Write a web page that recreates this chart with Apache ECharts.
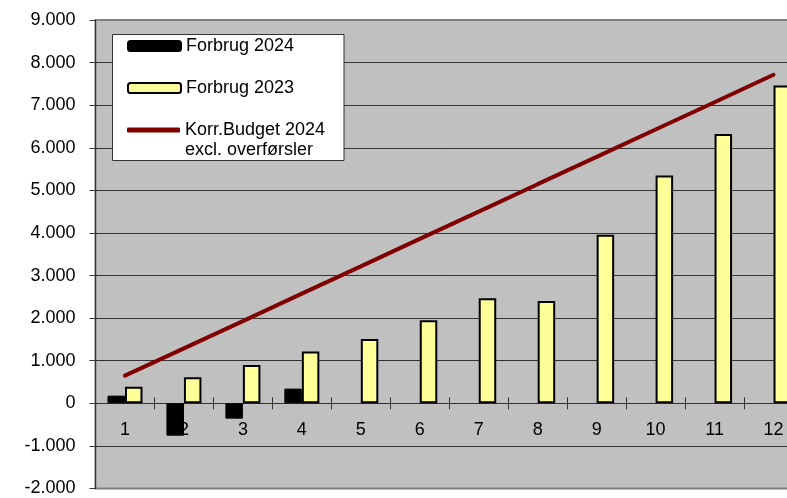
<!DOCTYPE html>
<html>
<head>
<meta charset="utf-8">
<script src="https://cdn.jsdelivr.net/npm/echarts@6/dist/echarts.min.js"></script>
<style>
html,body{margin:0;padding:0;background:#fff;}
#chart{width:787px;height:498px;}
</style>
</head>
<body>
<div id="chart"></div>
<script>
const months = ['1','2','3','4','5','6','7','8','9','10','11','12'];
const forbrug2024 = [180, -760, -360, 345, null, null, null, null, null, null, null, null];
const forbrug2023 = [390, 610, 900, 1215, 1510, 1950, 2465, 2405, 3960, 5350, 6325, 7460];
const budget2024 = [650, 1290, 1930, 2575, 3215, 3860, 4500, 5145, 5785, 6430, 7070, 7715];
const yTicks = {min: -2000, max: 9000, step: 1000};

const FONT = "'Liberation Sans', Arial, sans-serif";
function fmt(v){
  const s = Math.abs(v).toString().replace(/\B(?=(\d{3})+(?!\d))/g, '.');
  return (v < 0 ? '-' : '') + s;
}
const splitColors = ['#808080'];
for (let i = 1; i < 11; i++) splitColors.push('#333333');

const chart = echarts.init(document.getElementById('chart'));
chart.setOption({
  animation: false,
  backgroundColor: '#ffffff',
  textStyle: {fontFamily: FONT},
  grid: {
    left: 95.5, top: 20, bottom: 9.5, right: -16,
    containLabel: false, outerBoundsMode: 'none',
    show: true, backgroundColor: '#C0C0C0', borderColor: '#808080', borderWidth: 2
  },
  xAxis: [{
    type: 'category', data: months, position: 'bottom', offset: 0,
    axisLine: {show: true, onZero: false, lineStyle: {color: '#333333', width: 1}},
    axisTick: {show: true, length: 6, lineStyle: {color: '#333333'}},
    axisLabel: {margin: 18, fontSize: 18, color: '#000', fontFamily: FONT},
    splitLine: {show: false}
  }, {
    type: 'category', data: months, position: 'bottom', offset: 0,
    axisLine: {show: false, onZero: false},
    axisTick: {show: true, inside: true, length: 6, lineStyle: {color: '#333333'}},
    axisLabel: {show: false},
    splitLine: {show: false}
  }],
  yAxis: {
    type: 'value', min: yTicks.min, max: yTicks.max, interval: yTicks.step,
    axisLine: {show: true, lineStyle: {color: '#333333', width: 1}},
    axisTick: {show: true, length: 6, lineStyle: {color: '#333333'}},
    axisLabel: {margin: 20, fontSize: 18, color: '#000', fontFamily: FONT, formatter: fmt},
    splitLine: {show: true, lineStyle: {color: splitColors, width: 1}}
  },
  legend: [{
    data: ['Forbrug 2024', 'Forbrug 2023'],
    orient: 'vertical', left: 127, top: 36, padding: 0, itemGap: 22,
    itemWidth: 53, itemHeight: 10, z: 5,
    textStyle: {fontSize: 18, color: '#000', lineHeight: 20, fontFamily: FONT}
  }, {
    data: [{name: 'Korr.Budget 2024 excl. overførsler', icon: 'roundRect'}],
    formatter: () => 'Korr.Budget 2024',
    orient: 'vertical', left: 127, top: 120, padding: 0,
    itemWidth: 53, itemHeight: 5, z: 5,
    itemStyle: {color: '#800000', borderWidth: 0},
    textStyle: {fontSize: 18, color: '#000', lineHeight: 20, fontFamily: FONT}
  }],
  graphic: [{
    type: 'rect', z: 4,
    shape: {x: 112.5, y: 34.5, width: 231.5, height: 126},
    style: {fill: '#ffffff', stroke: '#333333', lineWidth: 1}
  }, {
    type: 'text', z: 5, left: 185, top: 140,
    style: {text: 'excl. overførsler', fontSize: 18, fontFamily: FONT, fill: '#000', lineHeight: 20}
  }],
  series: [{
    name: 'Forbrug 2024', type: 'bar', data: forbrug2024,
    barWidth: 17.5, barGap: '0%',
    itemStyle: {color: '#000000', borderColor: '#000000', borderWidth: 1}
  }, {
    name: 'Forbrug 2023', type: 'bar', data: forbrug2023,
    barWidth: 17.5, barGap: '0%',
    itemStyle: {color: '#FFFF99', borderColor: '#000000', borderWidth: 2}
  }, {
    name: 'Korr.Budget 2024 excl. overførsler', type: 'line', data: budget2024,
    symbol: 'none', z: 3,
    lineStyle: {color: '#800000', width: 4, cap: 'round'},
    itemStyle: {color: '#800000'}
  }]
});
// Move the category axis onto the value axis' zero using the library's own scale
const zeroY = chart.convertToPixel({yAxisIndex: 0}, 0);
const minY = chart.convertToPixel({yAxisIndex: 0}, yTicks.min);
const off = zeroY - minY;
chart.setOption({xAxis: [{offset: off}, {offset: off}]});
</script>
</body>
</html>
